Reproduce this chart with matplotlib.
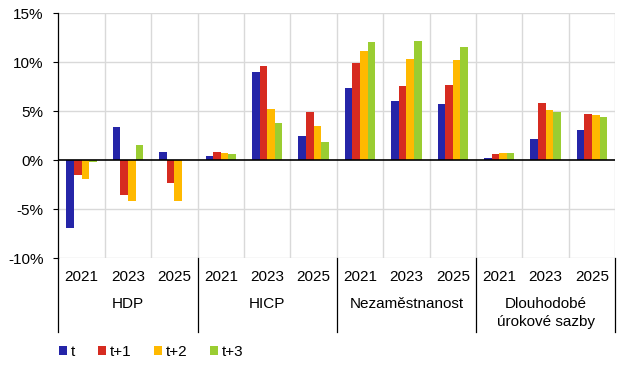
import matplotlib
matplotlib.use("Agg")
import matplotlib.pyplot as plt
import matplotlib.transforms as mtransforms
from matplotlib.patches import Patch
import numpy as np

plt.rcParams['font.family'] = ['Liberation Sans', 'DejaVu Sans']

categories = ["HDP", "HICP", "Nezaměstnanost", "Dlouhodobé\núrokové sazby"]
years = ["2021", "2023", "2025"]
series_names = ["t", "t+1", "t+2", "t+3"]

# values per group (category x year), order: HDP 2021,2023,2025, HICP ..., Nezam ..., Dlouh ...
s_t   = [-6.9, 3.4, 0.85, 0.45, 9.0, 2.5, 7.4, 6.05, 5.75, 0.2, 2.2, 3.1]
s_t1  = [-1.5, -3.5, -2.3, 0.85, 9.6, 4.9, 9.9, 7.6, 7.7, 0.65, 5.85, 4.75]
s_t2  = [-1.9, -4.15, -4.15, 0.75, 5.25, 3.5, 11.15, 10.35, 10.25, 0.75, 5.15, 4.6]
s_t3  = [-0.15, 1.55, np.nan, 0.68, 3.8, 1.85, 12.05, 12.2, 11.55, 0.75, 4.95, 4.4]
series = [s_t, s_t1, s_t2, s_t3]
colors = ["#2525A8", "#D62B20", "#FFB900", "#9ACD32"]

yticks = [-10, -5, 0, 5, 10, 15]
ytick_labels = ["-10%", "-5%", "0%", "5%", "10%", "15%"]

W, H = 626, 376
fig = plt.figure(figsize=(W/100, H/100), dpi=100)
ax = fig.add_axes([58.3/W, 1-258.3/H, (615.3-58.3)/W, (258.3-13.3)/H])

n_groups = len(s_t)
x = np.arange(n_groups) + 0.5
bw = 0.164
offsets = np.array([-1.5, -0.5, 0.5, 1.5]) * bw
for vals, off, c, name in zip(series, offsets, colors, series_names):
    ax.bar(x + off, vals, width=bw, color=c, label=name, zorder=3, linewidth=0)

ax.set_xlim(0, n_groups)
ax.set_ylim(-10, 15)
ax.set_yticks(yticks)
ax.set_yticklabels(ytick_labels)
ax.tick_params(axis='y', length=3.6, width=0.8, pad=7, labelsize=11, color='black')
ax.set_xticks([])

for y in yticks:
    if y != 0:
        ax.axhline(y, color='#d9d9d9', linewidth=1.0, zorder=1)
for i in range(1, n_groups + 1):
    ax.axvline(i, color='#d9d9d9', linewidth=1.0, zorder=1)
ax.axhline(0, color='black', linewidth=1.2, zorder=4)

for s in ['top', 'right', 'bottom']:
    ax.spines[s].set_visible(False)
ax.spines['left'].set_color('black')
ax.spines['left'].set_linewidth(0.9)
ax.spines['left'].set_zorder(5)

trans = mtransforms.blended_transform_factory(ax.transData, fig.transFigure)
def fy(py):
    return 1 - py / H

# year labels
for i in range(n_groups):
    ax.text(x[i], fy(277), years[i % 3], transform=trans, ha='center', va='center',
            fontsize=11, clip_on=False)
# category labels
for k, cat in enumerate(categories):
    cx = 3 * k + 1.5
    lines = cat.split("\n")
    for j, ln in enumerate(lines):
        ax.text(cx, fy(304 + 18.3 * j), ln, transform=trans, ha='center', va='center',
                fontsize=11, clip_on=False)
# separators
for k in range(0, 5):
    ax.plot([3 * k, 3 * k], [fy(258.3), fy(332)], transform=trans, color='black',
            linewidth=0.9, clip_on=False, zorder=5)

handles = [Patch(facecolor=c, edgecolor='none', label=n) for c, n in zip(colors, series_names)]
fig.legend(handles=handles, loc='center left', bbox_to_anchor=(59/W, fy(352)),
           ncol=4, frameon=False, fontsize=11, handlelength=0.55, handleheight=0.55,
           handletextpad=0.25, columnspacing=1.45, borderpad=0, borderaxespad=0)

fig.savefig("out.png", dpi=100)
